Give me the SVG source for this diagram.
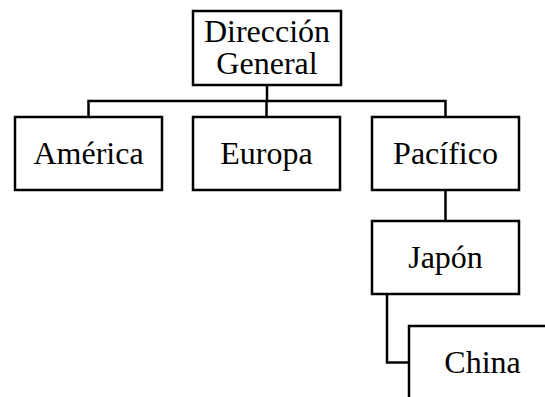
<svg xmlns="http://www.w3.org/2000/svg" width="545" height="397" viewBox="0 0 545 397">
  <style>
    .box { fill: #fff; stroke: #000; stroke-width: 2.5; }
    .wire { fill: none; stroke: #000; stroke-width: 2.5; }
    .lbl { font-family: "Liberation Serif", "Times New Roman", serif; font-size: 32px; fill: #000; text-anchor: middle; }
  </style>
  <rect width="545" height="397" fill="#fff"/>

  <g id="connectors">
    <path class="wire" d="M267 85 V101"/>
    <path class="wire" d="M88.5 117 V101 H445.5 V117"/>
    <path class="wire" d="M266.5 101 V117"/>
    <path class="wire" d="M445.5 190 V221"/>
    <path class="wire" d="M387 294 V362.5 H409"/>
  </g>

  <g id="direccion-general">
    <rect class="box" x="193" y="11" width="148" height="74"/>
    <text class="lbl" x="267" y="42">Dirección</text>
    <text class="lbl" x="267" y="74">General</text>
  </g>

  <g id="america">
    <rect class="box" x="15" y="117" width="147" height="73"/>
    <text class="lbl" x="88.5" y="163.5">América</text>
  </g>

  <g id="europa">
    <rect class="box" x="193" y="117" width="147" height="73"/>
    <text class="lbl" x="266.5" y="163.5">Europa</text>
  </g>

  <g id="pacifico">
    <rect class="box" x="372" y="117" width="147" height="73"/>
    <text class="lbl" x="445.5" y="163.5">Pacífico</text>
  </g>

  <g id="japon">
    <rect class="box" x="372" y="221" width="147" height="73"/>
    <text class="lbl" x="445.5" y="267.5">Japón</text>
  </g>

  <g id="china">
    <rect class="box" x="409" y="326" width="147" height="73"/>
    <text class="lbl" x="482.5" y="372.5">China</text>
  </g>
</svg>
